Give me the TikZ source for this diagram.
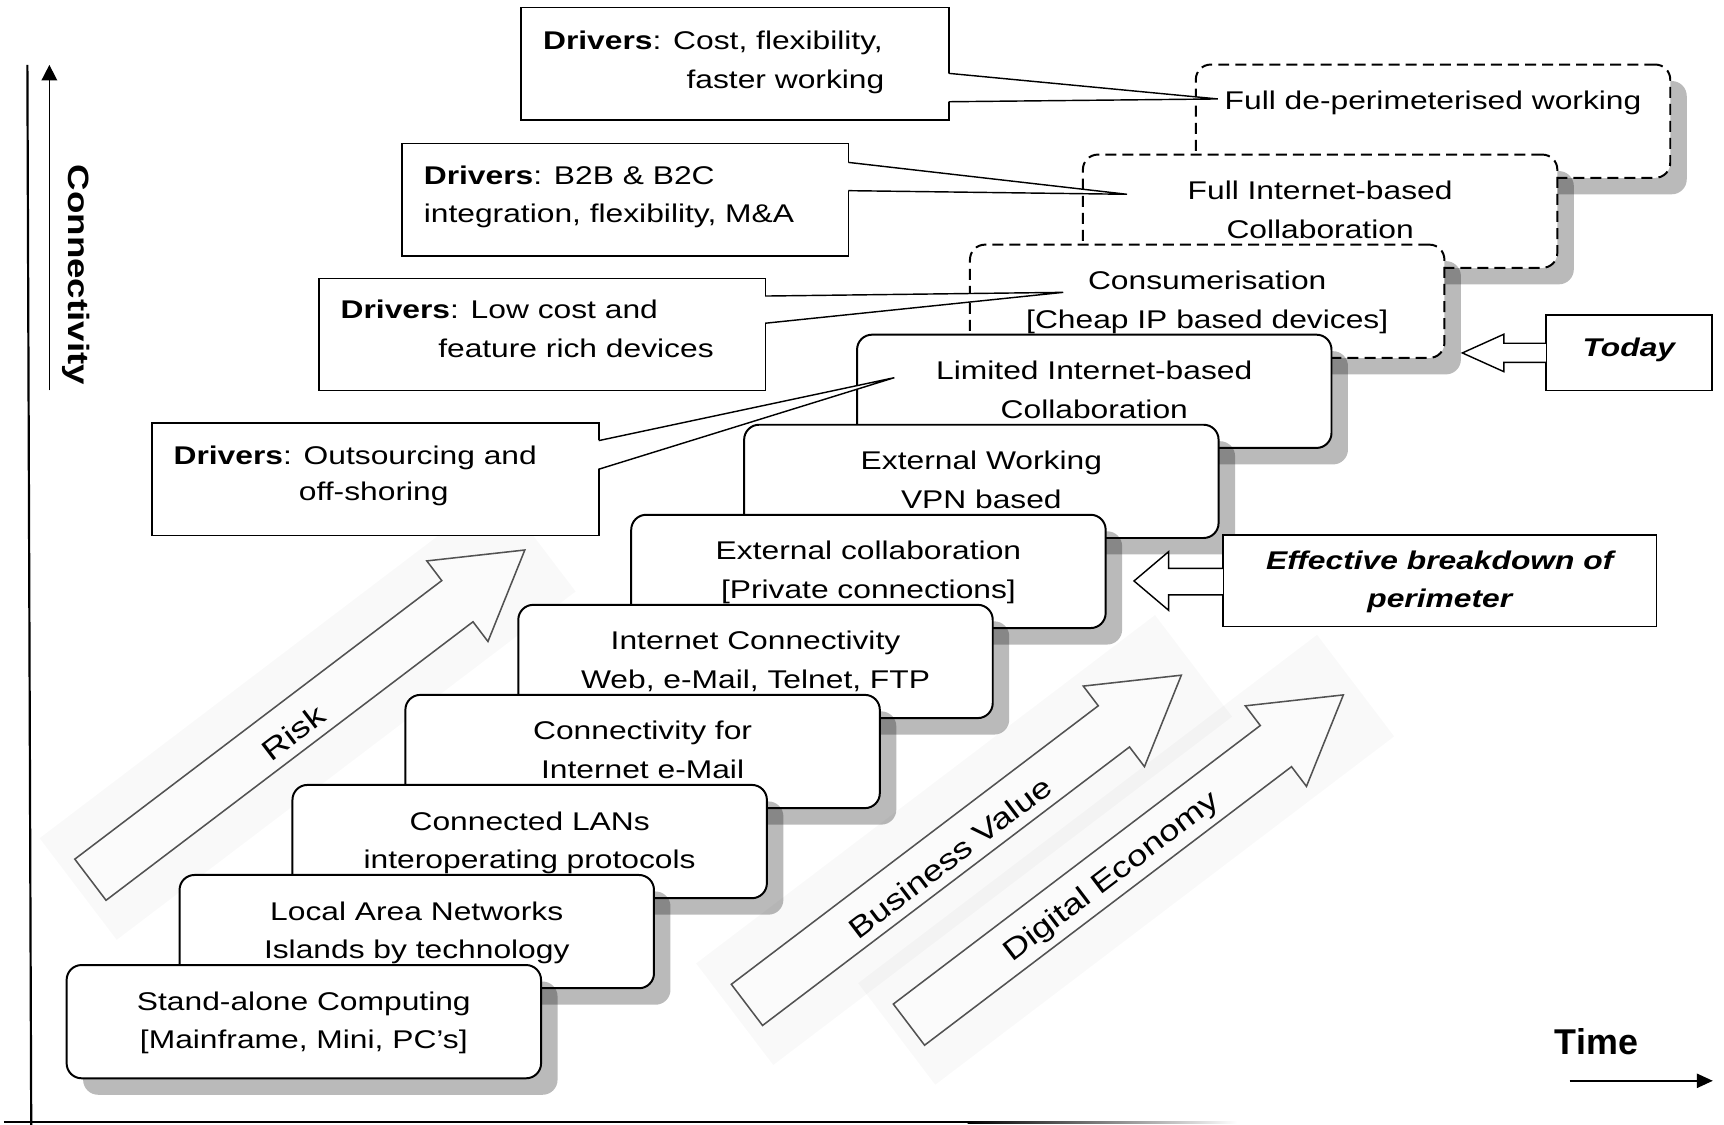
\documentclass[tikz,border=0pt]{standalone}
\usepackage{fontspec}
\setmainfont{Liberation Sans}
\newfontfamily\stepfont[FakeStretch=1.24]{Liberation Sans}
\newfontfamily\connfont[FakeStretch=1.25]{Liberation Sans}
\usetikzlibrary{calc,shadows,arrows.meta}
\begin{document}
\begin{tikzpicture}[x=1pt,y=-1pt,
  stepbox/.style={draw, line width=1.8pt, fill=white, rounded corners=13.6pt,
    minimum width=431.5pt, minimum height=103pt, inner sep=0pt, outer sep=0pt,
    anchor=north west, align=center,
    font=\stepfont\fontsize{23.3}{35}\selectfont,
    drop shadow={shadow xshift=15pt, shadow yshift=-15pt, fill=black, opacity=0.27}},
  dashbox/.style={stepbox, dash pattern=on 10pt off 5.5pt},
  cbox/.style={draw, line width=1.3pt, fill=white, inner sep=0pt, outer sep=0pt, anchor=north west},
  ctext/.style={inner sep=0pt, font=\stepfont\fontsize{23.3}{35}\selectfont},
  pointer/.style={line width=1.3pt, line join=miter},
  tbox/.style={draw, line width=1.3pt, fill=white, inner sep=0pt, outer sep=0pt, anchor=north west,
    align=center, font=\stepfont\bfseries\itshape\fontsize{23.3}{35}\selectfont},
  barrow/.style={draw, line width=1.3pt, fill=white},
  diag/.style={draw=black!68, line width=1.4pt, fill=black!1.5},
  halo/.style={fill=black, opacity=0.022},
  diagtext/.style={inner sep=0pt, font=\stepfont\fontsize{26.5}{30}\selectfont}
]
\fill[white] (0,0) rectangle (1568,1023);
\useasboundingbox (0,0) rectangle (1568,1023);

% diagonal block arrows
\begin{scope}[shift={(82.25,800.1)}, rotate=37.2]
  \fill[halo] (-14,-58) rectangle (510,58);
  \draw[diag] (0,-23.5) -- (419,-23.5) -- (419,-46) -- (496,0) -- (419,46) -- (419,23.5) -- (0,23.5) -- cycle;
  \node[diagtext, rotate=37.2] (risk) at (228,5) {Risk};
\end{scope}
\begin{scope}[shift={(679.35,913.95)}, rotate=37.2]
  \fill[halo] (-14,-58) rectangle (510,58);
  \draw[diag] (0,-23.5) -- (419,-23.5) -- (419,-46) -- (496,0) -- (419,46) -- (419,23.5) -- (0,23.5) -- cycle;
  \node[diagtext, rotate=37.2] (bv) at (228,5) {Business Value};
\end{scope}
\begin{scope}[shift={(826.7,931.9)}, rotate=37.2]
  \fill[halo] (-14,-58) rectangle (510,58);
  \draw[diag] (0,-23.5) -- (419,-23.5) -- (419,-46) -- (496,0) -- (419,46) -- (419,23.5) -- (0,23.5) -- cycle;
  \node[diagtext, rotate=37.2] (de) at (228,5) {Digital Economy};
\end{scope}

% step boxes, top one first
\node[dashbox] (s11) at (1087.6,58.7) {Full de-perimeterised working\strut\\\strut};
\node[dashbox] (s10) at (984.9,140.6) {Full Internet-based\strut\\Collaboration\strut};
\node[dashbox] (s9) at (882.2,222.5) {Consumerisation\strut\\{}[Cheap IP based devices]\strut};
\node[stepbox] (s8) at (779.5,304.4) {Limited Internet-based\strut\\Collaboration\strut};
\node[stepbox] (s7) at (676.8,386.3) {External Working\strut\\VPN based\strut};
\node[stepbox] (s6) at (574.1,468.2) {External collaboration\strut\\{}[Private connections]\strut};
\node[stepbox] (s5) at (471.4,550.1) {Internet Connectivity\strut\\Web, e-Mail, Telnet, FTP\strut};
\node[stepbox] (s4) at (368.7,632.0) {Connectivity for\strut\\Internet e-Mail\strut};
\node[stepbox] (s3) at (266.0,713.9) {Connected LANs\strut\\interoperating protocols\strut};
\node[stepbox] (s2) at (163.3,795.8) {Local Area Networks\strut\\Islands by technology\strut};
\node[stepbox] (s1) at (60.6,877.7) {Stand-alone Computing\strut\\{}[Mainframe, Mini, PC’s]\strut};

% driver callouts
\node[cbox, minimum width=389.3pt, minimum height=102.3pt] (cA) at (474,6.7) {};
\node[cbox, minimum width=406.2pt, minimum height=102.4pt] (cB) at (365.5,130.4) {};
\node[cbox, minimum width=405.7pt, minimum height=102.2pt] (cC) at (290.3,253.1) {};
\node[cbox, minimum width=406.2pt, minimum height=102.1pt] (cD) at (138.4,384.8) {};
\coordinate (tA) at (1107.7,90);
\coordinate (tB) at (1025,176.7);
\coordinate (tC) at (967,265.9);
\coordinate (tD) at (813.4,343.5);

\fill[white] ($(cA.north east)!0.587!(cA.south east)+(-2,0)$) -- (tA) -- ($(cA.north east)!0.839!(cA.south east)+(-2,0)$) -- cycle;
\draw[pointer] ($(cA.north east)!0.587!(cA.south east)$) -- (tA) -- ($(cA.north east)!0.839!(cA.south east)$);
\fill[white] ($(cB.north east)!0.169!(cB.south east)+(-2,0)$) -- (tB) -- ($(cB.north east)!0.42!(cB.south east)+(-2,0)$) -- cycle;
\draw[pointer] ($(cB.north east)!0.169!(cB.south east)$) -- (tB) -- ($(cB.north east)!0.42!(cB.south east)$);
\fill[white] ($(cC.north east)!0.158!(cC.south east)+(-2,0)$) -- (tC) -- ($(cC.north east)!0.40!(cC.south east)+(-2,0)$) -- cycle;
\draw[pointer] ($(cC.north east)!0.158!(cC.south east)$) -- (tC) -- ($(cC.north east)!0.40!(cC.south east)$);
\fill[white] ($(cD.north east)!0.156!(cD.south east)+(-2,0)$) -- (tD) -- ($(cD.north east)!0.411!(cD.south east)+(-2,0)$) -- cycle;
\draw[pointer] ($(cD.north east)!0.156!(cD.south east)$) -- (tD) -- ($(cD.north east)!0.411!(cD.south east)$);

\node[ctext, anchor=base east] (a1) at (803,44.9) {\textbf{Drivers}: Cost, flexibility,};
\node[ctext, anchor=base east] (a2) at (804.5,80.3) {faster working};
\node[ctext, anchor=base west] (b1) at (385.3,167.6) {\textbf{Drivers}: B2B \& B2C};
\node[ctext, anchor=base west] (b2) at (385.3,202.5) {integration, flexibility, M\&A};
\node[ctext, anchor=base west] (c1) at (309.6,289.5) {\textbf{Drivers}: Low cost and};
\node[ctext, anchor=base west] (c2) at (398.4,325) {feature rich devices};
\node[ctext, anchor=base west] (d1) at (157.7,422.6) {\textbf{Drivers}: Outsourcing and};
\node[ctext, anchor=base] (d2) at (339.9,455.3) {off-shoring};

% Today and perimeter markers
\node[tbox, minimum width=151pt, minimum height=68.8pt, text height=17pt, text depth=10pt] (today) at (1406,286.5) {Today};
\coordinate (todaytip) at (1330,321);
\draw[barrow] ([yshift=8.7pt]today.west) -- (1367.7,312.2) -- (1367.7,304) -- (todaytip) -- (1367.7,338) -- (1367.7,329.5) -- ([yshift=-8.6pt]today.west);

\node[tbox, minimum width=394.4pt, minimum height=83.5pt] (eff) at (1112.3,486.5) {Effective breakdown of\strut\\perimeter\strut};
\coordinate (efftip) at (1031.4,528.4);
\draw[barrow] ([yshift=11.25pt]eff.west) -- (1062.8,517) -- (1062.8,501.8) -- (efftip) -- (1062.8,555) -- (1062.8,541) -- ([yshift=-12.75pt]eff.west);

% axes
\draw[line width=2pt] (24.9,59) -- (28.4,1023);
\draw[line width=2pt] (3.6,1020.7) -- (880,1020.7);
\shade[left color=black, right color=white] (880,1019.7) rectangle (1125,1021.7);
\draw[line width=1.4pt, -{Triangle[length=14pt,width=14pt]}] (44.9,355) -- (44.9,59);
\node[inner sep=0pt, rotate=-90, anchor=base, font=\connfont\bfseries\fontsize{26.7}{32}\selectfont] (conn) at (62.1,250) {Connectivity};
\draw[line width=1.4pt, -{Triangle[length=14.5pt,width=13pt]}] (1427.6,983) -- (1557.8,983);
\node[inner sep=0pt, anchor=base, font=\bfseries\fontsize{32.6}{39}\selectfont] (time) at (1452,959.5) {Time};
\end{tikzpicture}
\end{document}
